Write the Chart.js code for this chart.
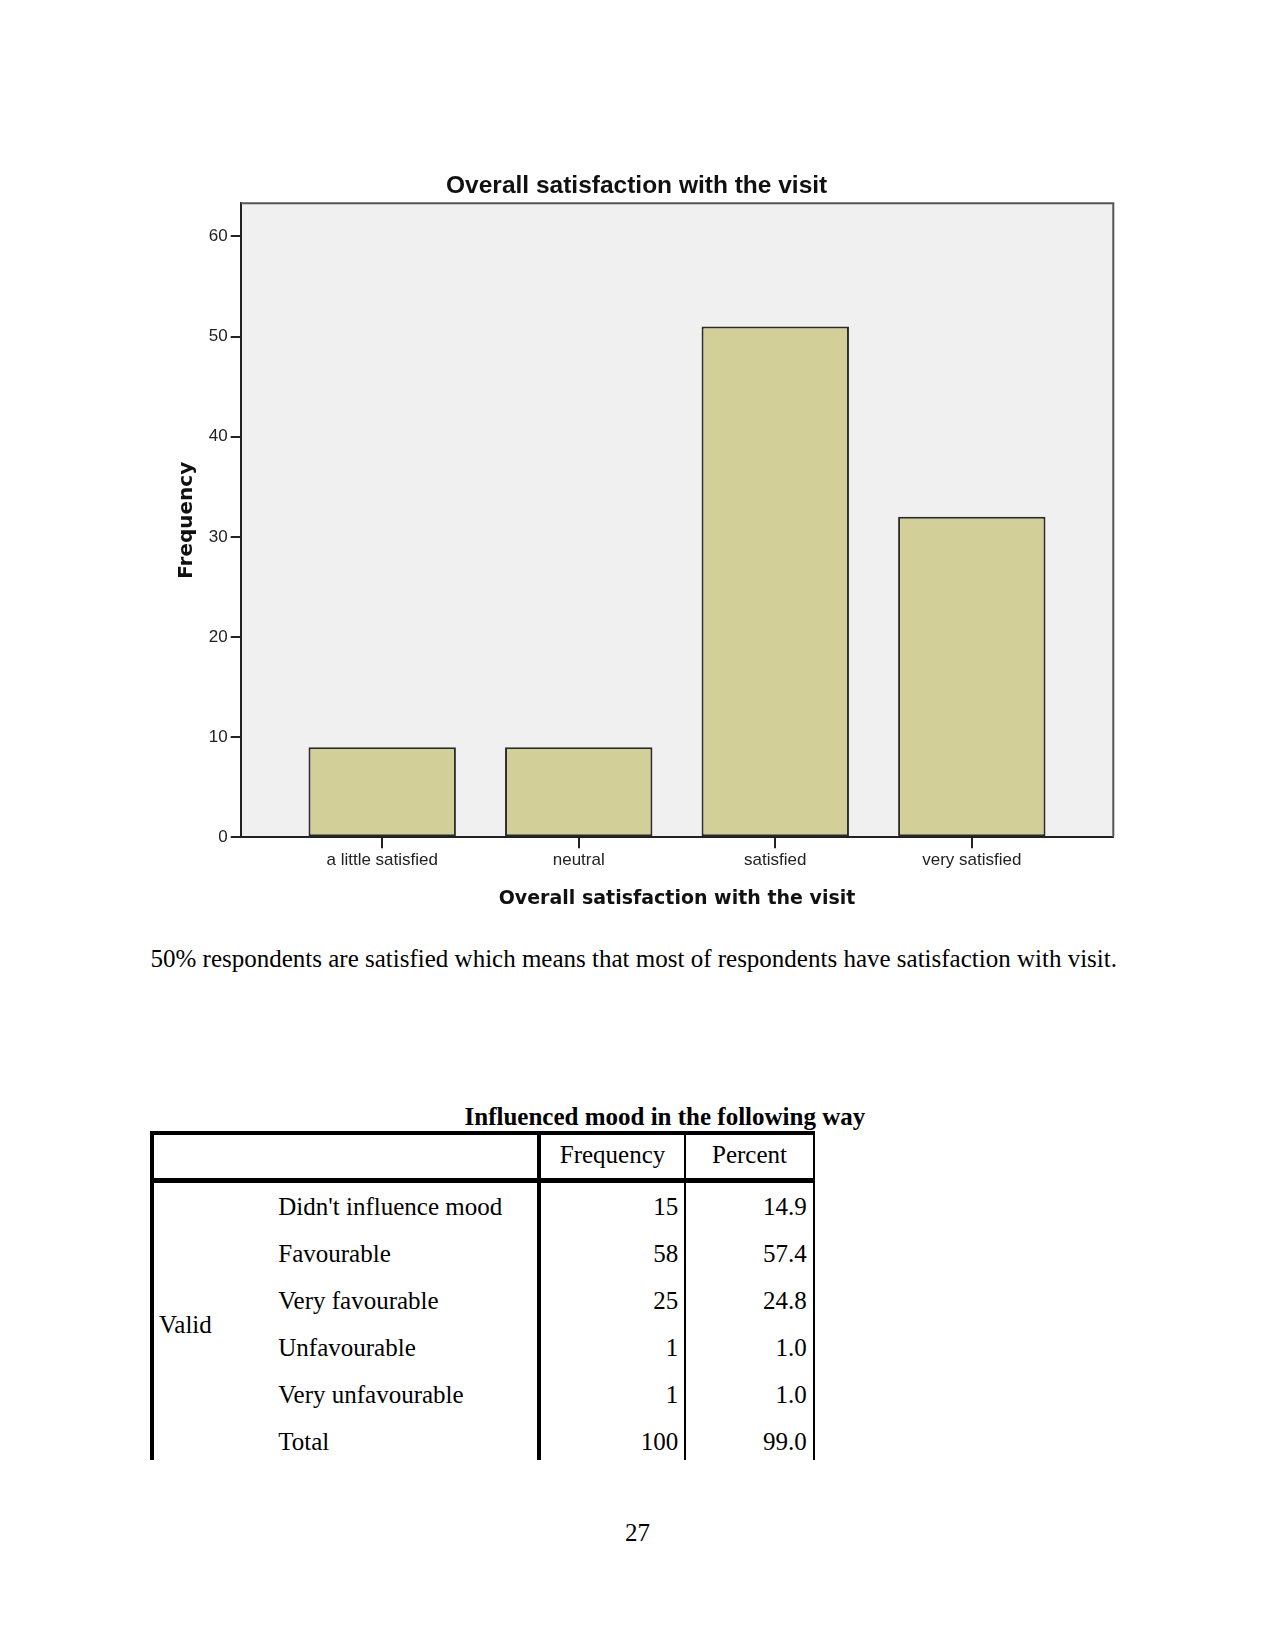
<!DOCTYPE html>
<html>
<head>
    <title>Overall satisfaction with the visit</title>
    <script src="https://cdn.jsdelivr.net/npm/chart.js@4.4.1/dist/chart.umd.min.js"></script>
    <style>
        body {
            margin: 0;
            background: #fff;
        }
        #page {
            position: relative;
            width: 1275px;
            height: 1651px;
            overflow: hidden;
        }
        #chart {
            position: absolute;
            left: 160px;
            top: 150px;
        }
        .t {
            position: absolute;
            font-family: "Liberation Serif", "Times New Roman", serif;
            font-size: 25px;
            line-height: 25px;
            white-space: nowrap;
            color: #000;
        }
        .c { text-align: center; width: 400px; }
        .r { text-align: right; }
        .line {
            position: absolute;
            background: #000;
        }
    </style>
</head>
<body>
<div id="page">
    <canvas id="chart" width="1000" height="780"></canvas>

    <div class="t" style="left:150.5px; top:946px;">50% respondents are satisfied which means that most of respondents have satisfaction with visit.</div>

    <div class="t c" style="left:464.5px; top:1104px; font-weight:bold;">Influenced mood in the following way</div>
    <div id="table"></div>

    <div class="t c" style="left:437.5px; top:1520.4px;">27</div>
</div>

<script>
    // chart data
    const categories = ['a little satisfied', 'neutral', 'satisfied', 'very satisfied'];
    const frequencies = [9, 9, 51, 32];
    const yTicks = [0, 10, 20, 30, 40, 50, 60];

    // table data
    const moodLabels = ["Didn't influence mood", 'Favourable', 'Very favourable', 'Unfavourable', 'Very unfavourable', 'Total'];
    const moodFreq = [15, 58, 25, 1, 1, 100];
    const moodPct = ['14.9', '57.4', '24.8', '1.0', '1.0', '99.0'];

    // plot background + top/right frame
    const framePlugin = {
        id: 'frame',
        beforeDraw(chart) {
            const a = chart.chartArea;
            const ctx = chart.ctx;
            ctx.save();
            ctx.fillStyle = '#f0f0f0';
            ctx.fillRect(a.left, a.top, a.right - a.left, a.bottom - a.top);
            ctx.restore();
        },
        afterDraw(chart) {
            const a = chart.chartArea;
            const ctx = chart.ctx;
            ctx.save();
            ctx.strokeStyle = '#555';
            ctx.lineWidth = 2;
            ctx.beginPath();
            ctx.moveTo(a.left, a.top);
            ctx.lineTo(a.right, a.top);
            ctx.lineTo(a.right, a.bottom);
            ctx.stroke();
            ctx.restore();
        }
    };

    new Chart(document.getElementById('chart'), {
        type: 'bar',
        data: {
            datasets: [{
                data: frequencies.map((v, i) => ({ x: i, y: v })),
                backgroundColor: '#d3cf98',
                borderColor: '#2b2b2b',
                borderWidth: 2,
                borderSkipped: false,
                barPercentage: 0.75,
                categoryPercentage: 1
            }]
        },
        options: {
            responsive: false,
            devicePixelRatio: 1,
            animation: false,
            layout: { padding: { left: 0, right: 46.7, top: 0, bottom: 0 } },
            plugins: {
                legend: { display: false },
                tooltip: { enabled: false },
                title: {
                    display: true,
                    text: 'Overall satisfaction with the visit',
                    color: '#111',
                    font: { family: 'Liberation Sans, Arial', size: 24.5, weight: 'bold' },
                    padding: { top: 21.2, bottom: 2.7 }
                }
            },
            scales: {
                x: {
                    type: 'linear',
                    min: -0.72,
                    max: 3.72,
                    offset: false,
                    afterBuildTicks: (s) => { s.ticks = categories.map((c, i) => ({ value: i })); },
                    afterFit: (s) => { s.height = 92.7; },
                    ticks: {
                        callback: (v) => categories[v],
                        color: '#222',
                        font: { family: 'Liberation Sans, Arial', size: 17 },
                        padding: 1.5,
                        maxRotation: 0
                    },
                    grid: { offset: false, drawOnChartArea: false, tickLength: 11, color: '#222', lineWidth: 2 },
                    border: { color: '#222', width: 2 },
                    title: {
                        display: true,
                        text: 'Overall satisfaction with the visit',
                        color: '#111',
                        font: { family: 'DejaVu Sans', size: 19, weight: 'bold' },
                        padding: { top: 0, bottom: 20 }
                    }
                },
                y: {
                    min: 0,
                    max: 63.3,
                    afterBuildTicks: (s) => { s.ticks = yTicks.map(v => ({ value: v })); },
                    afterFit: (s) => { s.width = 80.7; },
                    ticks: {
                        color: '#222',
                        font: { family: 'Liberation Sans, Arial', size: 17 },
                        padding: 3
                    },
                    grid: { drawOnChartArea: false, tickLength: 10, color: '#222', lineWidth: 2 },
                    border: { color: '#222', width: 2 },
                    title: {
                        display: true,
                        text: 'Frequency',
                        color: '#111',
                        font: { family: 'DejaVu Sans', size: 20, weight: 'bold' },
                        padding: { top: 14.5, bottom: 0 }
                    }
                }
            }
        },
        plugins: [framePlugin]
    });

    // build the frequency table
    const table = document.getElementById('table');
    function add(html) { table.insertAdjacentHTML('beforeend', html); }

    // borders
    add('<div class="line" style="left:150px; top:1131px; width:665px; height:4px;"></div>');
    add('<div class="line" style="left:150px; top:1178px; width:665px; height:5px;"></div>');
    add('<div class="line" style="left:150px; top:1131px; width:4px; height:329px;"></div>');
    add('<div class="line" style="left:537px; top:1131px; width:4px; height:329px;"></div>');
    add('<div class="line" style="left:684px; top:1131px; width:2px; height:329px;"></div>');
    add('<div class="line" style="left:813px; top:1131px; width:2px; height:329px;"></div>');

    // header
    add('<div class="t c" style="left:412.5px; top:1141.8px;">Frequency</div>');
    add('<div class="t c" style="left:549.5px; top:1141.8px;">Percent</div>');
    add('<div class="t" style="left:159px; top:1311.6px;">Valid</div>');

    moodLabels.forEach((lab, i) => {
        const top = 1194 + 47 * i;
        add(`<div class="t" style="left:278.3px; top:${top}px;">${lab}</div>`);
        add(`<div class="t r" style="right:596.7px; top:${top}px;">${moodFreq[i]}</div>`);
        add(`<div class="t r" style="right:468.3px; top:${top}px;">${moodPct[i]}</div>`);
    });
</script>
</body>
</html>
